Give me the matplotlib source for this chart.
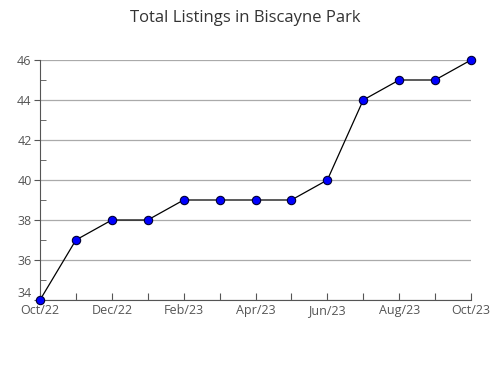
import matplotlib
matplotlib.use('Agg')
import matplotlib.pyplot as plt
import numpy as np

# Monthly listing counts
months = ['Oct/22', 'Nov/22', 'Dec/22', 'Jan/23', 'Feb/23', 'Mar/23', 'Apr/23',
          'May/23', 'Jun/23', 'Jul/23', 'Aug/23', 'Sep/23', 'Oct/23']
listings = [34, 37, 38, 38, 39, 39, 39, 39, 40, 44, 45, 45, 46]

plt.rcParams['font.family'] = ['Open Sans', 'DejaVu Sans']

fig = plt.figure(figsize=(4.9, 3.8), dpi=100)
ax = fig.add_axes([40 / 490, 1 - 300 / 380, 431 / 490, 240 / 380])

x = np.arange(len(months))
ax.plot(x, listings, color='black', linewidth=0.9, marker='o', markersize=6,
        markerfacecolor='#0000ff', markeredgecolor='#000033', markeredgewidth=0.8,
        zorder=3, clip_on=False)

ax.set_xlim(0, len(months) - 1)
ax.set_ylim(34, 46)
ax.set_xticks(x)
ax.set_xticklabels([m if i % 2 == 0 else '' for i, m in enumerate(months)])
ax.set_yticks(range(34, 47, 2))
ax.set_yticks(range(35, 46, 2), minor=True)

ax.grid(axis='y', color='#aaaaaa', linewidth=0.9)
ax.set_axisbelow(True)
for s in ['top', 'right']:
    ax.spines[s].set_visible(False)
for s in ['left', 'bottom']:
    ax.spines[s].set_color('#555555')

ax.tick_params(axis='x', direction='in', length=5, color='#555555',
               labelsize=9, labelcolor='#555555', pad=3)
ax.tick_params(axis='y', which='major', direction='out', length=4, color='#555555',
               labelsize=9, labelcolor='#555555', pad=2)
ax.tick_params(axis='y', which='minor', direction='in', length=4, color='#555555')
ax.get_yticklabels()[0].set_va('bottom')

fig.suptitle('Total Listings in Biscayne Park', x=0.5, y=0.975, fontsize=12, color='#333333')

fig.savefig('out.png', dpi=100)
